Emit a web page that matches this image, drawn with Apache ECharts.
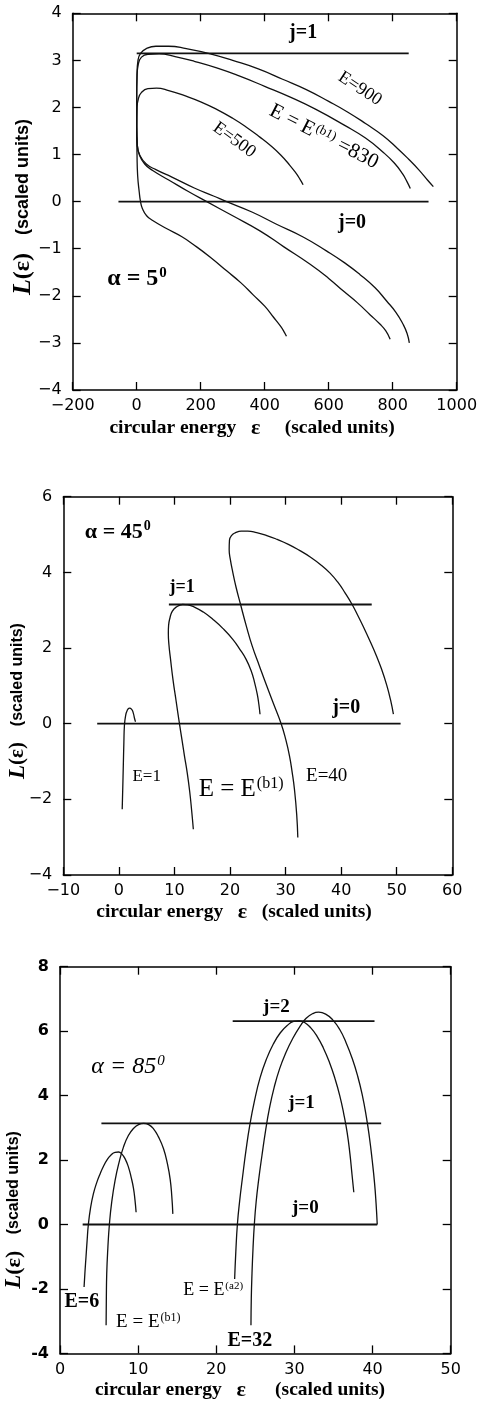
<!DOCTYPE html>
<html><head><meta charset="utf-8">
<script src="https://cdn.jsdelivr.net/npm/echarts/dist/echarts.min.js"></script>
<style>html,body{margin:0;padding:0;background:#fff}#c{width:482px;height:1408px}</style>
</head><body><div id="c"></div><script>
// ---------- Panel 1 (alpha = 5 deg) ----------
const p1X = {min: -200, max: 1000, interval: 200};
const p1Y = {min: -4, max: 4, interval: 1};
const p1_E500 = [[520,0.36],[510,0.48],[495,0.63],[475,0.8],[450,0.99],[420,1.18],[385,1.37],[345,1.57],[300,1.77],[250,1.96],[200,2.12],[150,2.25],[100,2.36],[62,2.41],[35,2.4],[15,2.32],[5,2.18],[1,1.98],[0,1.6],[1,1.0],[3,0.55],[8,0.2],[12,0],[18,-0.15],[31,-0.3],[50,-0.4],[93,-0.57],[140,-0.74],[177,-0.91],[230,-1.18],[281,-1.47],[325,-1.72],[364,-1.98],[400,-2.22],[427,-2.45],[450,-2.65],[462,-2.78],[468,-2.86]];
const p1_E830 = [[855,0.28],[845,0.42],[830,0.6],[805,0.82],[770,1.05],[715,1.35],[650,1.62],[560,1.96],[480,2.22],[400,2.45],[320,2.67],[250,2.84],[180,2.98],[120,3.08],[70,3.14],[35,3.13],[15,3.07],[5,2.92],[1,2.65],[0,2.2],[0,1.6],[2,1.2],[8,1.0],[25,0.8],[50,0.66],[100,0.46],[160,0.22],[219,0],[300,-0.3],[385,-0.62],[460,-0.96],[542,-1.33],[600,-1.63],[646,-1.9],[690,-2.15],[729,-2.4],[760,-2.6],[778,-2.74],[792,-2.92]];
const p1_E900 = [[927,0.32],[910,0.45],[881,0.68],[850,0.9],[815,1.13],[770,1.4],[715,1.66],[660,1.9],[600,2.13],[530,2.38],[456,2.6],[380,2.82],[300,3.0],[230,3.14],[155,3.25],[100,3.3],[60,3.3],[30,3.25],[12,3.15],[4,3.0],[1,2.7],[0,2.2],[0,1.6],[2,1.2],[10,0.98],[30,0.8],[60,0.68],[110,0.52],[180,0.29],[240,0.12],[281,0],[360,-0.22],[437,-0.48],[520,-0.75],[594,-1.05],[650,-1.3],[698,-1.55],[745,-1.83],[781,-2.11],[810,-2.35],[833,-2.61],[845,-2.8],[852,-3.0]];
const p1_j1 = [[0,3.15],[850,3.15]];
const p1_j0 = [[-57,0],[912,0]];

// ---------- Panel 2 (alpha = 45 deg) ----------
const p2X = {min: -10, max: 60, interval: 10};
const p2Y = {min: -4, max: 6, interval: 2};
const p2_E1 = [[0.6,-2.26],[0.7,-1.7],[0.8,-1.1],[0.9,-0.5],[1.0,-0.05],[1.2,0.2],[1.5,0.35],[1.9,0.41],[2.3,0.38],[2.6,0.28],[2.8,0.15],[3.0,0.05]];
const p2_Eb1 = [[13.4,-2.79],[13.1,-2.3],[12.75,-1.8],[12.3,-1.3],[11.8,-0.85],[11.35,-0.42],[10.9,0],[10.3,0.6],[9.75,1.15],[9.3,1.7],[9.0,2.1],[8.9,2.4],[8.95,2.6],[9.2,2.8],[9.6,2.97],[10.3,3.08],[11.5,3.15],[12.4,3.14],[13.5,3.09],[15.2,2.95],[16.9,2.76],[18.7,2.52],[20.5,2.23],[21.8,1.96],[22.9,1.7],[23.8,1.4],[24.4,1.1],[24.9,0.78],[25.2,0.5],[25.4,0.25]];
const p2_E40 = [[32.2,-3.01],[32.0,-2.4],[31.6,-1.74],[31.2,-1.3],[30.7,-0.85],[30.0,-0.4],[29.2,0],[27.9,0.5],[26.6,1.0],[25.3,1.52],[24.0,2.05],[22.9,2.6],[21.9,3.15],[21.1,3.6],[20.5,4.0],[20.05,4.35],[19.85,4.6],[19.9,4.85],[20.3,4.98],[21.0,5.05],[22.0,5.09],[23.2,5.09],[24.8,5.05],[26.5,4.98],[28.5,4.87],[30.5,4.74],[32.5,4.58],[34.5,4.4],[36.5,4.18],[38.0,3.98],[39.4,3.74],[40.7,3.46],[41.9,3.17],[43.0,2.86],[44.1,2.53],[45.2,2.18],[46.3,1.81],[47.3,1.43],[48.2,1.02],[48.9,0.62],[49.4,0.25]];
const p2_j1 = [[9.0,3.15],[45.5,3.15]];
const p2_j0 = [[-3.9,0],[50.7,0]];

// ---------- Panel 3 (alpha = 85 deg) ----------
const p3X = {min: 0, max: 50, interval: 10};
const p3Y = {min: -4, max: 8, interval: 2};
const p3_E6 = [[3.08,-1.94],[3.2,-1.45],[3.33,-1.0],[3.47,-0.5],[3.63,0],[3.9,0.5],[4.27,0.95],[4.7,1.3],[5.13,1.57],[5.55,1.8],[5.98,1.99],[6.5,2.15],[7.05,2.24],[7.5,2.25],[7.9,2.19],[8.35,2.03],[8.76,1.78],[9.1,1.47],[9.4,1.13],[9.6,0.75],[9.74,0.38]];
const p3_Eb1 = [[5.9,-3.13],[5.93,-2.3],[5.98,-1.53],[6.12,-0.75],[6.32,0],[6.62,0.7],[7.05,1.37],[7.55,1.92],[8.12,2.4],[8.75,2.76],[9.4,2.98],[10.05,3.1],[10.7,3.14],[11.35,3.1],[11.97,2.97],[12.6,2.72],[13.25,2.35],[13.75,1.88],[14.1,1.4],[14.3,0.9],[14.44,0.33]];
const p3_Ea2 = [[22.35,-1.69],[22.5,-0.85],[22.7,0],[23.0,0.75],[23.35,1.45],[23.8,2.3],[24.3,3.1],[24.9,3.85],[25.6,4.55],[26.4,5.12],[27.3,5.6],[28.2,5.95],[29.1,6.18],[29.9,6.3],[30.6,6.32],[31.3,6.27],[32.1,6.1],[32.9,5.84],[33.7,5.48],[34.5,5.02],[35.2,4.52],[35.8,4.0],[36.3,3.45],[36.75,2.85],[37.1,2.2],[37.35,1.6],[37.6,1.0]];
const p3_E32 = [[24.44,-3.13],[24.48,-2.3],[24.57,-1.53],[24.7,-0.75],[24.87,0],[25.1,0.7],[25.43,1.4],[25.85,2.15],[26.3,2.9],[26.8,3.6],[27.4,4.25],[28.1,4.83],[28.9,5.33],[29.8,5.78],[30.77,6.17],[31.5,6.4],[32.3,6.54],[33.1,6.59],[34.0,6.53],[34.9,6.35],[35.8,6.05],[36.6,5.65],[37.4,5.15],[38.1,4.6],[38.7,4.0],[39.2,3.35],[39.6,2.7],[39.95,2.0],[40.25,1.3],[40.45,0.65],[40.6,0]];
const p3_j0 = [[2.9,0],[40.6,0]];
const p3_j1 = [[5.3,3.14],[41.1,3.14]];
const p3_j2 = [[22.1,6.31],[40.25,6.31]];

// ---------- Annotations: [panel, [x, y], text, size, weight, rotation deg, style] ----------
const annotations = [
  [0, [520, 3.59], '{m|j=1}', 20, 'bold'],
  [0, [698, 2.40], '{m|E=900}', 18, 'normal', -33],
  [0, [585, 1.38], '{m|E = E}{s|(b1)}{m| =830}', 21, 'normal', -27],
  [0, [305, 1.31], '{m|E=500}', 18, 'normal', -36],
  [0, [673, -0.45], '{m|j=0}', 20, 'bold'],
  [0, [1, -1.63], '{m|α = 5}{s|0}', 24, 'bold'],
  [1, [-0.2, 5.07], '{m|α = 45}{s|0}', 22, 'bold'],
  [1, [11.4, 3.6], '{m|j=1}', 18, 'bold'],
  [1, [40.9, 0.43], '{m|j=0}', 20, 'bold'],
  [1, [5.0, -1.41], '{m|E=1}', 17],
  [1, [22.0, -1.73], '{m|E = E}{s|(b1)}', 25],
  [1, [37.4, -1.39], '{m|E=40}', 19],
  [2, [27.7, 6.75], '{m|j=2}', 19, 'bold'],
  [2, [8.7, 4.89], '{m|α = 85}{s|0}', 24, 'normal', 0, 'italic'],
  [2, [30.9, 3.76], '{m|j=1}', 19, 'bold'],
  [2, [31.4, 0.5], '{m|j=0}', 19, 'bold'],
  [2, [2.8, -2.39], '{m|E=6}', 20, 'bold'],
  [2, [11.3, -3.04], '{m|E = E}{s|(b1)}', 19],
  [2, [19.6, -2.05], '{m|E = E}{s|(a2)}', 18],
  [2, [24.3, -3.6], '{m|E=32}', 20, 'bold']
];

// ---------- Text ----------
const minusSign = '\u2212';
const xTitleWords = ['circular energy', 'ε', '(scaled units)'];

const SERIF = 'Liberation Serif';
const SANS = 'DejaVu Sans';

const grids = [
  {left: 72.7, top: 13.3, width: 384, height: 376.7},
  {left: 63.3, top: 496.7, width: 389, height: 378.3},
  {left: 60, top: 966.7, width: 390.7, height: 386.7}
];

function fmtMinus(v){ return v < 0 ? minusSign + (-v) : String(v); }
function fmtHyphen(v){ return v < 0 ? '-' + (-v) : String(v); }

const xAxes = [], yAxes = [];
function addAxes(gi, X, Y, yFmt, yBold){
  const line = {show: true, onZero: false, lineStyle: {color: '#000', width: 1.5}};
  const tick = {show: true, inside: true, length: 8, lineStyle: {color: '#000', width: 1.3}};
  xAxes.push({type: 'value', gridIndex: gi, position: 'bottom', min: X.min, max: X.max, interval: X.interval,
    axisLine: line, axisTick: tick, splitLine: {show: false},
    axisLabel: {color: '#000', fontFamily: SANS, fontSize: 16, margin: 8, formatter: fmtMinus}});
  xAxes.push({type: 'value', gridIndex: gi, position: 'top', min: X.min, max: X.max, interval: X.interval,
    axisLine: line, axisTick: tick, splitLine: {show: false}, axisLabel: {show: false}});
  yAxes.push({type: 'value', gridIndex: gi, position: 'left', min: Y.min, max: Y.max, interval: Y.interval,
    axisLine: line, axisTick: tick, splitLine: {show: false},
    axisLabel: {color: '#000', fontFamily: SANS, fontSize: 16, fontWeight: yBold ? 'bold' : 'normal', margin: 11, formatter: yFmt}});
  yAxes.push({type: 'value', gridIndex: gi, position: 'right', min: Y.min, max: Y.max, interval: Y.interval,
    axisLine: line, axisTick: tick, splitLine: {show: false}, axisLabel: {show: false}});
}
addAxes(0, p1X, p1Y, fmtMinus, false);
addAxes(1, p2X, p2Y, fmtMinus, false);
addAxes(2, p3X, p3Y, fmtHyphen, true);

const series = [];
function curve(gi, data){
  series.push({type: 'line', xAxisIndex: gi * 2, yAxisIndex: gi * 2, data: data, showSymbol: false,
    smooth: 0.5, lineStyle: {color: '#111', width: 1.3}, silent: true, animation: false});
}
function level(gi, data){
  series.push({type: 'line', xAxisIndex: gi * 2, yAxisIndex: gi * 2, data: data, showSymbol: false,
    lineStyle: {color: '#111', width: 1.8}, silent: true, animation: false});
}
curve(0, p1_E500); curve(0, p1_E830); curve(0, p1_E900); level(0, p1_j1); level(0, p1_j0);
curve(1, p2_E1); curve(1, p2_Eb1); curve(1, p2_E40); level(1, p2_j1); level(1, p2_j0);
curve(2, p3_E6); curve(2, p3_Eb1); curve(2, p3_Ea2); curve(2, p3_E32); level(2, p3_j0); level(2, p3_j1); level(2, p3_j2);

function yTitle(x, y, k){
  const rich = {
    i: {fontSize: Math.round(26 * k), fontFamily: SERIF, fontStyle: 'italic', fontWeight: 'bold', fill: '#000'},
    n: {fontSize: Math.round(24 * k), fontFamily: SERIF, fontWeight: 'bold', fill: '#000'},
    b: {fontSize: Math.round(18 * k), fontFamily: 'Liberation Sans', fontWeight: 'bold', fill: '#000'}
  };
  return {type: 'text', x: x, y: y, rotation: Math.PI / 2, silent: true,
    style: {text: '{i|L}{n|(ε)   }{b|(scaled units)}', rich: rich, align: 'center', verticalAlign: 'middle', fill: '#000'}};
}
function xTitle(x, y, gap1, gap2){
  const rich = {
    t: {fontSize: 19.5, fontFamily: SERIF, fontWeight: 'bold', fill: '#000'},
    e: {fontSize: 22, fontFamily: SERIF, fontWeight: 'bold', fill: '#000'}
  };
  const sp = n => ' '.repeat(n);
  return {type: 'text', x: x, y: y, silent: true,
    style: {text: '{t|' + xTitleWords[0] + sp(gap1) + '}{e|' + xTitleWords[1] + '}{t|' + sp(gap2) + xTitleWords[2] + '}',
      rich: rich, align: 'center', verticalAlign: 'middle', fill: '#000'}};
}

const chart = echarts.init(document.getElementById('c'), null, {renderer: 'canvas'});
chart.setOption({
  backgroundColor: '#fff',
  animation: false,
  grid: grids,
  xAxis: xAxes,
  yAxis: yAxes,
  series: series
});

function annGraphic(a){
  const [gi, pos, text, size, weight, rot, style] = a;
  const p = chart.convertToPixel({xAxisIndex: gi * 2, yAxisIndex: gi * 2}, pos);
  const base = {fontFamily: SERIF, fontWeight: weight || 'normal', fontStyle: style || 'normal', fill: '#000'};
  const rich = {
    m: Object.assign({fontSize: size}, base),
    s: Object.assign({fontSize: Math.round(size * 0.62), verticalAlign: 'top', padding: [0, 0, Math.round(size * 0.45), 1]}, base)
  };
  return {type: 'text', x: p[0], y: p[1], rotation: (rot || 0) * Math.PI / 180, silent: true, z: 10,
    style: {text: text, rich: rich, align: 'center', verticalAlign: 'middle', fill: '#000'}};
}

chart.setOption({
  graphic: [yTitle(23, 207, 1), yTitle(18, 701, 0.88), yTitle(14, 1210, 0.9),
    xTitle(252, 428, 3, 5), xTitle(234, 912, 3, 3), xTitle(240, 1390, 3, 6)].concat(annotations.map(annGraphic))
});
</script></body></html>
